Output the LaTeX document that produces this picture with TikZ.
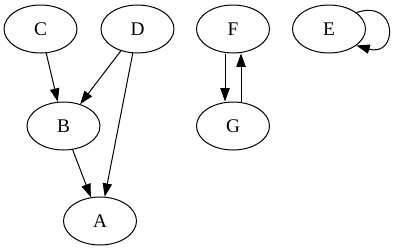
\documentclass[tikz,border=0pt]{standalone}
\usepackage{fontspec}
\setmainfont{Liberation Serif}
\usetikzlibrary{positioning, arrows.meta, shapes.geometric}

\begin{document}
\begin{tikzpicture}[
    x=0.75pt, y=0.75pt,
    every node/.style={font=\fontsize{14.5}{16}\selectfont},
    % plain ellipse for every vertex
    vertex/.style={draw, ellipse, line width=0.75pt, minimum width=54.75pt,
                   minimum height=36pt, inner sep=0pt},
    arrow/.style={-{Triangle[length=10pt, width=7pt]}, line width=0.75pt}
]
\useasboundingbox (0,0) rectangle (395,251);

\node[vertex] (C) at (40.5,222) {C};
\node[vertex] (D) at (137.5,222) {D};
\node[vertex] (B) at (63.5,125) {B};
\node[vertex] (A) at (100,30) {A};
\node[vertex] (F) at (233,222) {F};
\node[vertex] (G) at (233,125) {G};
\node[vertex] (E) at (329,222) {E};

\draw[arrow] (C) -- (B);
\draw[arrow] (D) -- (B);
\draw[arrow] (D) -- (A);
\draw[arrow] (B) -- (A);

\draw[arrow] ([xshift=-6pt]F.south) -- ([xshift=-6pt]G.north);
\draw[arrow] ([xshift=6pt]G.north) -- ([xshift=6pt]F.south);

\draw[arrow] (E.31) .. controls +(42,14) and +(42,-12) .. (E.-31);

\end{tikzpicture}
\end{document}
